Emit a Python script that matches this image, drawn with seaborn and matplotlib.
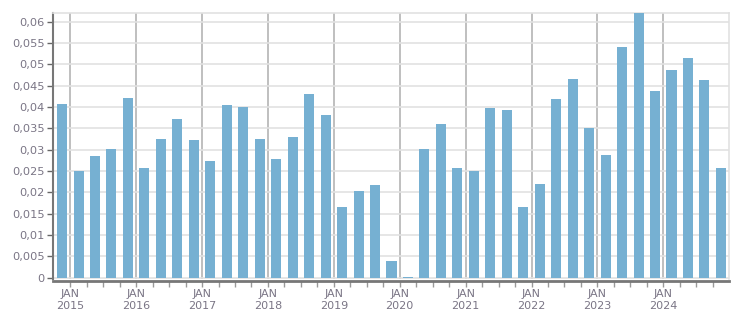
import matplotlib
matplotlib.use("Agg")
import matplotlib.pyplot as plt
import seaborn as sns
import pandas as pd
import numpy as np

values = [0.0408, 0.0251, 0.0285, 0.0301, 0.0420, 0.0256, 0.0324, 0.0371,
          0.0322, 0.0273, 0.0404, 0.0401, 0.0324, 0.0277, 0.0329, 0.0430,
          0.0380, 0.0165, 0.0202, 0.0216, 0.0038, 0.0002, 0.0301, 0.0359,
          0.0256, 0.0251, 0.0397, 0.0392, 0.0165, 0.0219, 0.0418, 0.0465,
          0.0350, 0.0287, 0.0540, 0.0619, 0.0437, 0.0486, 0.0514, 0.0462,
          0.0256]
years = ["2015", "2016", "2017", "2018", "2019", "2020", "2021", "2022", "2023", "2024"]
y_ticks = [0, 0.005, 0.01, 0.015, 0.02, 0.025, 0.03, 0.035, 0.04, 0.045, 0.05, 0.055, 0.06]

df = pd.DataFrame({"idx": list(range(len(values))), "value": values})

sns.set_style("white")
fig = plt.figure(figsize=(7.51, 3.13), dpi=100)
ax = fig.add_axes([53/751, 1 - 279/313, (729-53)/751, (279-13)/313])
ax.set_axisbelow(True)

sns.barplot(data=df, x="idx", y="value", color="#76b0d2", saturation=1,
            width=0.61, ax=ax, linewidth=0, edgecolor="none", zorder=3)

ax.set_xlim(-0.55, len(values) - 0.51)
ax.set_ylim(-0.0003, 0.0620)

# y axis
ax.set_yticks(y_ticks)
ax.set_yticklabels(["0" if v == 0 else ("%g" % v).replace(".", ",") for v in y_ticks])
ax.yaxis.grid(True, color="#e1e1e1", linewidth=1.2)

# x axis: major at JAN boundaries, minor at each quarter boundary
major = [0.5 + 4 * i for i in range(len(years))]
ax.set_xticks(major)
ax.set_xticklabels(["JAN\n" + y for y in years])
ax.set_xticks([0.5 + i for i in range(len(values) - 1)], minor=True)
ax.xaxis.grid(True, which="major", color="#b4b4b4", linewidth=1.2)
ax.set_xlabel("")
ax.set_ylabel("")

lab_col = "#7a7585"
ax.tick_params(axis="y", colors="#666666", labelcolor=lab_col, labelsize=8.2,
               length=4, width=1, direction="out", pad=2, left=True)
ax.tick_params(axis="x", which="major", colors="#999999", labelcolor=lab_col,
               labelsize=8.0, length=4, width=1, direction="out", pad=2, bottom=True)
ax.tick_params(axis="x", which="minor", colors="#999999", length=4, width=1,
               direction="out", bottom=True)
for lbl in ax.get_xticklabels():
    lbl.set_linespacing(1.15)

for s in ["top", "right"]:
    ax.spines[s].set_color("#e1e1e1")
    ax.spines[s].set_linewidth(1.2)
ax.spines["left"].set_color("#777777")
ax.spines["left"].set_linewidth(1.5)
ax.spines["bottom"].set_color("#777777")
ax.spines["bottom"].set_linewidth(2.0)
ax.spines["bottom"].set_position(("outward", 1.5))

fig.savefig("out.png", dpi=100)
